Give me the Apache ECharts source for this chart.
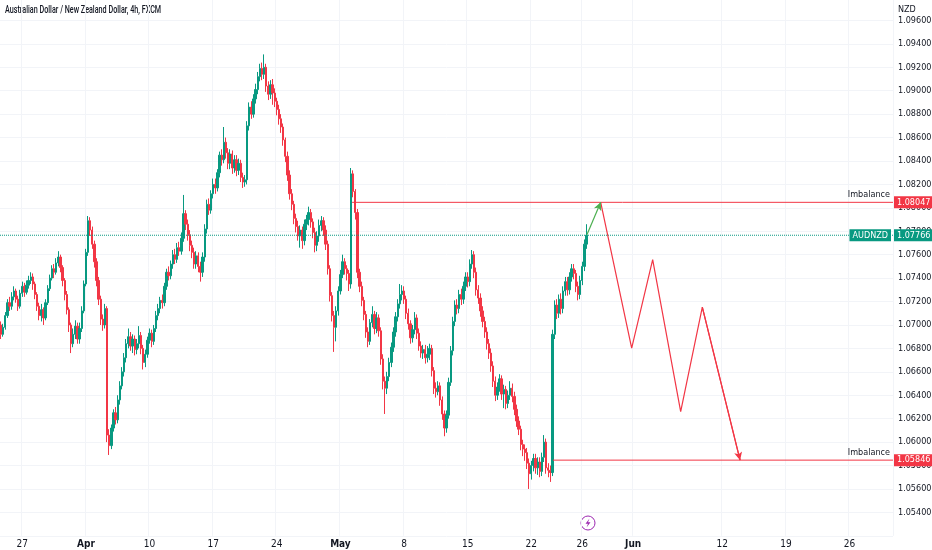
<!DOCTYPE html>
<html>
<head>
<meta charset="utf-8">
<script src="https://cdn.jsdelivr.net/npm/echarts@6/dist/echarts.min.js"></script>
<style>
html,body{margin:0;padding:0;background:#fff}
#main{width:932px;height:550px}
</style>
</head>
<body>
<div id="main"></div>
<script>
// AUDNZD 4h candles, prices in pips above 1.0000 (692 -> 1.0692), open = previous close
var firstOpen = 700;
var closes = [
 692,698,708,719,716,724,729,722,716,727, 733,728,734,738,741,735,726,716,708,713,
 706,719,731,740,748,745,753,758,749,738, 726,713,700,684,692,699,688,697,712,735,
 762,789,781,769,754,738,722,705,700,714, 606,597,612,625,619,636,648,660,672,684,
 690,682,688,679,684,691,680,668,675,687, 693,686,697,708,714,721,719,733,745,742,
 752,760,756,766,763,774,795,786,777,768, 762,752,759,750,745,758,782,803,798,812,
 820,817,830,845,841,856,847,838,846,834, 841,832,838,826,822,824,870,886,880,893,
 901,912,919,914,920,904,897,905,898,891, 884,876,869,858,844,828,812,803,791,784,
 776,781,772,786,790,796,788,779,768,776, 785,789,781,769,748,725,708,698,712,729,
 743,754,748,744,735,829,814,796,745,733, 721,709,694,686,702,709,697,706,695,671,
 652,646,656,668,681,694,707,718,726,729, 722,710,701,689,696,706,693,682,676,679,
 672,675,680,661,646,643,648,636,624,612, 623,651,678,703,717,714,726,722,733,741,
 737,752,760,745,730,723,712,703,694,684, 676,665,652,640,647,654,641,645,633,640,
 646,639,628,618,611,598,594,591,582,573, 580,586,578,583,575,587,600,578,576,574,
 692,717,710,722,714,729,737,730,741,748, 744,733,726,738,750,769,776.6
];
var highs = [
 703,701,711,722,724,728,733,731,725,730, 737,736,738,742,745,744,737,728,719,718,
 715,722,734,743,751,752,757,763,760,751, 740,729,715,702,697,704,702,702,716,738,
 765,793,792,784,772,757,741,725,709,718, 716,611,615,628,630,640,652,664,676,688,
 697,694,692,691,688,699,694,683,679,690, 697,696,700,712,718,724,726,736,748,750,
 755,764,765,770,771,779,811,798,790,781, 772,766,763,762,754,762,786,807,808,815,
 825,825,833,848,850,869,860,851,850,849, 845,845,842,841,830,828,874,890,891,897,
 906,916,923,924,931,923,908,909,910,902, 894,888,880,872,860,848,832,816,806,795,
 789,785,784,790,794,801,799,791,783,780, 790,793,792,785,772,751,728,712,716,733,
 747,760,757,751,747,834,832,816,799,748, 737,724,712,698,705,716,712,711,709,698,
 675,656,660,672,685,698,711,722,735,734, 733,725,714,704,700,711,709,697,686,683,
 683,682,684,683,664,651,652,651,639,627, 627,655,682,707,721,722,730,731,737,745,
 745,756,764,763,749,734,727,716,707,698, 688,680,669,656,651,658,657,649,648,644,
 652,650,643,632,622,614,602,598,595,586, 584,590,590,587,587,591,606,603,582,580,
 696,721,722,726,727,733,741,741,745,752, 752,747,737,742,754,773,786
];
var lows = [
 688,690,696,706,712,713,721,719,712,714, 724,724,726,731,735,730,722,712,704,703,
 700,704,717,729,738,740,743,750,745,733, 721,709,694,676,681,688,684,684,694,710,
 733,759,776,765,749,733,717,700,695,697, 600,589,594,609,615,616,632,645,656,668,
 680,678,676,674,675,680,675,662,664,672, 684,681,683,694,704,710,714,716,730,738,
 739,748,752,753,759,760,771,781,772,763, 757,748,748,745,737,741,754,778,794,795,
 808,812,814,826,836,838,842,833,833,829, 830,827,828,822,817,818,820,866,876,877,
 889,897,908,909,910,899,892,893,888,886, 879,871,864,853,839,823,807,798,786,779,
 772,766,765,768,781,785,783,774,762,763, 771,780,776,764,743,720,703,677,686,708,
 726,740,743,738,729,731,809,790,740,728, 716,704,689,681,683,698,692,693,690,666,
 645,624,641,652,664,677,690,703,714,721, 718,705,696,684,685,692,688,678,672,671,
 667,668,670,656,641,638,640,631,619,605, 608,620,648,674,699,709,710,717,718,729,
 732,733,748,740,725,718,707,698,689,679, 671,660,647,635,636,643,636,629,628,629,
 636,634,623,613,606,593,588,584,577,560, 568,575,573,572,570,571,583,573,570,566,
 571,688,705,706,709,710,725,725,726,737, 739,728,721,722,734,746,765
];

// time-axis labels (Monday 00:00 bars, month starts, May 26)
var tickLabels = {
  '2023-03-27': '27', '2023-04-03': 'Apr', '2023-04-10': '10', '2023-04-17': '17',
  '2023-04-24': '24', '2023-05-01': 'May', '2023-05-08': '8', '2023-05-15': '15',
  '2023-05-22': '22', '2023-05-26': '26', '2023-06-01': 'Jun', '2023-06-12': '12',
  '2023-06-19': '19', '2023-06-26': '26'
};
var monthNames = ['Apr', 'May', 'Jun'];

var imbalanceHigh = 1.08047;
var imbalanceLow = 1.05846;
var lastPrice = 1.07766;
// drawings, x in bar index units
var imbHighStart = 165.5;
var imbLowStart = 260.2;
var greenLeg = [[276.2, 1.0777], [282.7, 1.08047]];
var redPath = [[282.7, 1.08047], [297.3, 1.06802], [307.2, 1.07557], [320.4, 1.06261], [330.6, 1.07152], [348.4, 1.05846]];

var barCount = 421;
var startTime = Date.UTC(2023, 2, 23, 8);

var FONT = "'Liberation Sans Narrow','DejaVu Sans Condensed','Roboto',sans-serif";
var UP = '#089981', DOWN = '#f23645';

function pad(n) { return n < 10 ? '0' + n : '' + n; }

// 4h bars on weekdays only
var cats = [];
var t = startTime;
while (cats.length < barCount) {
  var d = new Date(t);
  var wd = d.getUTCDay();
  if (wd !== 0 && wd !== 6) {
    cats.push(d.getUTCFullYear() + '-' + pad(d.getUTCMonth() + 1) + '-' + pad(d.getUTCDate()) + ' ' + pad(d.getUTCHours()) + ':00');
  }
  t += 4 * 3600 * 1000;
}

function tickOf(val) {
  if (val.slice(11) !== '00:00') return undefined;
  return tickLabels[val.slice(0, 10)];
}

var candles = [];
for (var i = 0; i < closes.length; i++) {
  var o = i ? closes[i - 1] : firstOpen;
  candles.push([1 + o / 10000, 1 + closes[i] / 10000, 1 + lows[i] / 10000, 1 + highs[i] / 10000]);
}

var lastX = barCount - 0.5;
var boxLabel = function (txt, bg) {
  return { show: true, position: 'end', distance: 1, formatter: txt, color: '#fff', backgroundColor: bg,
    padding: [2, 3, 1, 3], fontSize: 9, fontFamily: FONT };
};
var textLabel = { show: true, position: 'insideEndTop', distance: 3, formatter: 'Imbalance',
  color: '#131722', fontSize: 9, fontFamily: FONT };
var tickerLabel = { show: true, position: 'insideEnd', distance: 2, formatter: 'AUDNZD', color: '#fff',
  backgroundColor: UP, padding: [2, 3, 1, 3], fontSize: 9, fontFamily: FONT };

// horizontal level drawn as its own line; the labels ride on invisible mark lines
function levelSeries(name, x0, y, style, labels) {
  return {
    name: name, type: 'line', xAxisIndex: 1, data: [[x0, y], [lastX, y]],
    showSymbol: false, clip: false, silent: true, color: style.color, lineStyle: style,
    markLine: {
      silent: true, animation: false, symbol: ['none', 'none'],
      lineStyle: { width: 0 },
      data: labels.map(function (l) { return [{ coord: [x0, y], label: l }, { coord: [lastX, y] }]; })
    }
  };
}

var chartDom = document.getElementById('main');
var myChart = echarts.init(chartDom);
var option;

option = {
  animation: false,
  grid: { left: 0, right: 39, top: -3, bottom: 14.2, containLabel: false, outerBoundsMode: 'none' },
  xAxis: [
    {
      type: 'category',
      data: cats,
      boundaryGap: true,
      axisLine: { show: false },
      axisTick: { show: false },
      axisLabel: {
        interval: function (idx, val) { return tickOf(val) !== undefined; },
        formatter: function (val) {
          var s = tickOf(val);
          return monthNames.indexOf(s) >= 0 ? '{b|' + s + '}' : s;
        },
        color: '#131722', fontSize: 10, fontFamily: FONT, margin: 4,
        rich: { b: { fontWeight: 'bold', fontSize: 10, fontFamily: FONT, color: '#131722' } }
      },
      splitLine: {
        show: true,
        interval: function (idx, val) { return tickOf(val) !== undefined; },
        lineStyle: { color: '#f2f4f8' }
      }
    },
    { type: 'value', min: -0.5, max: lastX, show: false }
  ],
  yAxis: {
    type: 'value',
    position: 'right',
    min: 1.052, max: 1.098, interval: 0.002,
    axisLine: { show: false },
    axisTick: { show: false },
    axisLabel: {
      formatter: function (v) { return v.toFixed(5); },
      showMinLabel: false, showMaxLabel: false,
      color: '#131722', fontSize: 9, fontFamily: FONT, margin: 5
    },
    splitLine: { lineStyle: { color: '#f2f4f8' } }
  },
  graphic: [
    { type: 'text', x: 5, y: 5, scaleX: 0.72, style: { text: 'Australian Dollar / New Zealand Dollar, 4h, FXCM', fill: '#131722', font: '500 10px Roboto, sans-serif' } },
    { type: 'text', left: 898, top: 5, style: { text: 'NZD', fill: '#131722', font: '9px ' + FONT } },
    { type: 'circle', shape: { cx: 588, cy: 523, r: 7 }, style: { fill: '#fff', stroke: '#9c27b0', lineWidth: 1 } },
    { type: 'polygon', shape: { points: [[589.5, 518.5], [585.5, 523.8], [588, 523.8], [586.5, 527.5], [590.5, 522.2], [588, 522.2]] }, style: { fill: '#9c27b0' } }
  ],
  series: [
    {
      name: 'AUDNZD',
      type: 'candlestick',
      data: candles,
      barWidth: 1.8,
      itemStyle: { color: UP, color0: DOWN, borderColor: UP, borderColor0: DOWN, borderWidth: 1 }
    },
    levelSeries('lastPrice', -0.5, lastPrice, { color: '#089981', width: 1, type: [1, 1] },
      [boxLabel(lastPrice.toFixed(5), UP), tickerLabel]),
    levelSeries('imbalanceHigh', imbHighStart, imbalanceHigh, { color: DOWN, width: 1, type: 'solid' },
      [boxLabel(imbalanceHigh.toFixed(5), DOWN), textLabel]),
    levelSeries('imbalanceLow', imbLowStart, imbalanceLow, { color: DOWN, width: 1, type: 'solid' },
      [boxLabel(imbalanceLow.toFixed(5), DOWN), textLabel]),
    {
      name: 'projection',
      type: 'line',
      xAxisIndex: 1,
      data: redPath,
      showSymbol: false,
      clip: false,
      silent: true,
      color: DOWN,
      lineStyle: { color: DOWN, width: 1.2 },
      markLine: {
        silent: true,
        animation: false,
        symbol: ['none', 'none'],
        data: [
          [{ coord: greenLeg[0], symbol: 'none', lineStyle: { color: '#4caf50', width: 1.2, type: 'solid' }, label: { show: false } },
           { coord: greenLeg[1], symbol: 'arrow', symbolSize: [6, 8], lineStyle: { color: '#4caf50', width: 1.2, type: 'solid' } }],
          [{ coord: redPath[redPath.length - 2], symbol: 'none', lineStyle: { color: DOWN, width: 1.2, type: 'solid' }, label: { show: false } },
           { coord: redPath[redPath.length - 1], symbol: 'arrow', symbolSize: [6, 8], lineStyle: { color: DOWN, width: 1.2, type: 'solid' } }]
        ]
      }
    }
  ]
};

option && myChart.setOption(option);
</script>
</body>
</html>
